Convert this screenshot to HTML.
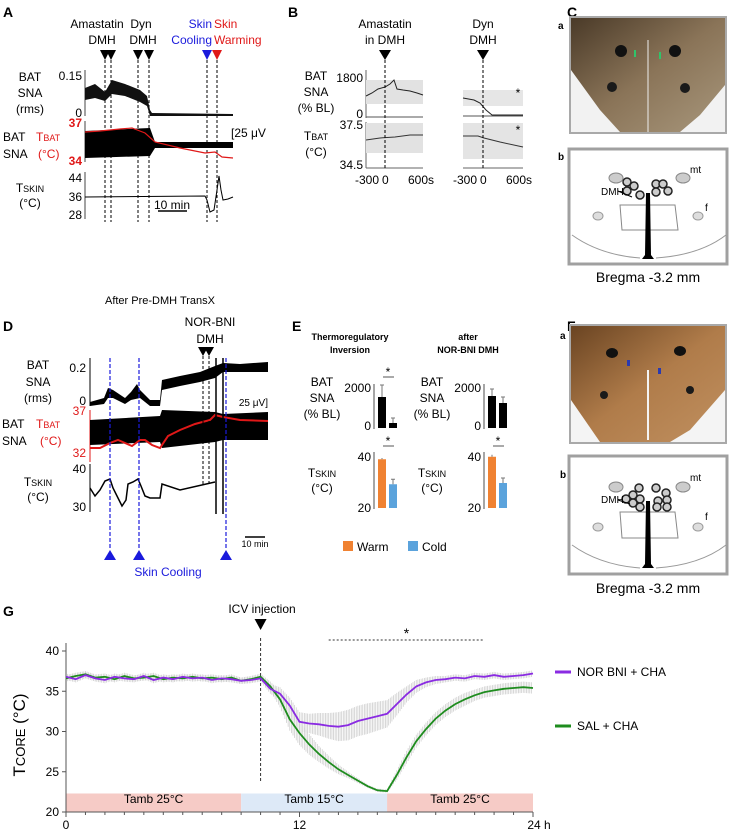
<!DOCTYPE html>
<html><head><meta charset="utf-8"><style>
html,body{margin:0;padding:0;background:#fff}
svg{display:block;font-family:"Liberation Sans",Arial,sans-serif}
</style></head><body>
<svg id="fig" width="731" height="839" viewBox="0 0 731 839" xmlns="http://www.w3.org/2000/svg">
<defs>
<linearGradient id="photoC" x1="0" y1="0" x2="1" y2="1"><stop offset="0" stop-color="#4a3a28"/><stop offset="0.5" stop-color="#8a7458"/><stop offset="1" stop-color="#a8977c"/></linearGradient>
<linearGradient id="photoF" x1="0" y1="0" x2="1" y2="1"><stop offset="0" stop-color="#6a4422"/><stop offset="0.5" stop-color="#b07c4a"/><stop offset="1" stop-color="#c09060"/></linearGradient>
</defs>

<!-- PANEL A -->
<g font-size="12">
<text x="3" y="17" font-weight="bold" font-size="14">A</text>
<text x="97" y="28" text-anchor="middle">Amastatin</text><text x="102" y="44" text-anchor="middle">DMH</text>
<text x="141" y="28" text-anchor="middle">Dyn</text><text x="143" y="44" text-anchor="middle">DMH</text>
<text x="212" y="28" text-anchor="end" fill="#1a1adc">Skin</text><text x="214" y="28" fill="#e01818">Skin</text>
<text x="212" y="44" text-anchor="end" fill="#1a1adc">Cooling</text><text x="214" y="44" fill="#e01818">Warming</text>
<g fill="#000"><path d="M100,50h10l-5,10z"/><path d="M106,50h10l-5,10z"/><path d="M133,50h10l-5,10z"/><path d="M144,50h10l-5,10z"/></g>
<path d="M202,50h10l-5,10z" fill="#1a1adc"/><path d="M212,50h10l-5,10z" fill="#e01818"/>
<g stroke="#000" stroke-dasharray="3,2" stroke-width="1"><line x1="105" y1="60" x2="105" y2="222"/><line x1="111" y1="60" x2="111" y2="222"/><line x1="138" y1="60" x2="138" y2="222"/><line x1="149" y1="60" x2="149" y2="222"/><line x1="207" y1="60" x2="207" y2="222"/><line x1="217" y1="60" x2="217" y2="222"/></g>
<text x="30" y="81" text-anchor="middle">BAT</text><text x="30" y="97" text-anchor="middle">SNA</text><text x="30" y="113" text-anchor="middle">(rms)</text>
<text x="82" y="80" text-anchor="end">0.15</text><text x="82" y="117" text-anchor="end">0</text>
<line x1="85" y1="70" x2="85" y2="116" stroke="#444"/>
<path d="M85,88 L95,84 L105,92 L112,80 L125,84 L140,90 L147,96 L150,110 L152,113 L233,114 L233,116 L150,116 L147,106 L140,102 L125,96 L112,94 L105,101 L95,98 L85,100z" fill="#111"/>
<text x="3" y="141">BAT</text><text x="3" y="158">SNA</text>
<text x="36" y="141" fill="#e01818">T<tspan font-size="9">BAT</tspan></text><text x="38" y="158" fill="#e01818">(°C)</text>
<text x="82" y="127" text-anchor="end" fill="#e01818" font-weight="bold">37</text><text x="82" y="165" text-anchor="end" fill="#e01818" font-weight="bold">34</text>
<line x1="85" y1="121" x2="85" y2="162" stroke="#444"/>
<path d="M85,131 L150,128 L155,142 L233,142 L233,148 L155,148 L150,156 L85,158z" fill="#000"/>
<polyline points="85,132 100,131 120,129 132,128 145,133 155,142 180,148 205,153 215,152 222,157 233,158" fill="none" stroke="#e01818" stroke-width="1.2"/>
<text x="231" y="137">[25 μV</text>
<text x="30" y="192" text-anchor="middle">T<tspan font-size="9">SKIN</tspan></text><text x="30" y="207" text-anchor="middle">(°C)</text>
<text x="82" y="182" text-anchor="end">44</text><text x="82" y="201" text-anchor="end">36</text><text x="82" y="219" text-anchor="end">28</text>
<line x1="85" y1="172" x2="85" y2="219" stroke="#444"/>
<polyline points="85,197 205,196 207,200 210,212 214,210 217,190 219,176 221,190 223,200 228,199 233,197" fill="none" stroke="#000"/>
<line x1="158" y1="211" x2="187" y2="211" stroke="#000" stroke-width="1.5"/><text x="172" y="209" text-anchor="middle">10 min</text>
</g>

<!-- PANEL B -->
<g font-size="12">
<text x="288" y="17" font-weight="bold" font-size="14">B</text>
<text x="385" y="28" text-anchor="middle">Amastatin</text><text x="385" y="44" text-anchor="middle">in DMH</text>
<text x="483" y="28" text-anchor="middle">Dyn</text><text x="483" y="44" text-anchor="middle">DMH</text>
<path d="M379,50h12l-6,10z"/><path d="M477,50h12l-6,10z"/>
<text x="316" y="80" text-anchor="middle">BAT</text><text x="316" y="96" text-anchor="middle">SNA</text><text x="316" y="112" text-anchor="middle">(% BL)</text>
<text x="363" y="82" text-anchor="end">1800</text><text x="363" y="118" text-anchor="end">0</text>
<text x="316" y="140" text-anchor="middle">T<tspan font-size="9">BAT</tspan></text><text x="316" y="156" text-anchor="middle">(°C)</text>
<text x="363" y="129" text-anchor="end">37.5</text><text x="363" y="169" text-anchor="end">34.5</text>
<line x1="366" y1="70" x2="366" y2="118" stroke="#666"/><line x1="366" y1="122" x2="366" y2="168" stroke="#666"/>
<rect x="366" y="80" width="57" height="24" fill="#e2e2e2"/><rect x="463" y="90" width="60" height="16" fill="#e6e6e6"/>
<rect x="366" y="123" width="57" height="30" fill="#e2e2e2"/><rect x="463" y="123" width="60" height="36" fill="#e4e4e4"/>
<polyline points="366,96 372,93 378,89 385,87 390,84 394,80 397,89 403,90 410,91 417,93 423,95" fill="none" stroke="#222"/>
<line x1="366" y1="117" x2="423" y2="117" stroke="#555"/>
<polyline points="366,140 380,138 395,137 410,135 423,135" fill="none" stroke="#333"/>
<line x1="366" y1="168" x2="423" y2="168" stroke="#666"/>
<polyline points="463,98 474,100 480,103 486,110 492,115 523,115" fill="none" stroke="#222"/>
<line x1="463" y1="116" x2="523" y2="116" stroke="#555"/>
<polyline points="463,136 478,136 484,138 500,142 523,147" fill="none" stroke="#333"/>
<line x1="463" y1="168" x2="523" y2="168" stroke="#666"/>
<g stroke="#000" stroke-dasharray="3,2"><line x1="385" y1="60" x2="385" y2="168"/><line x1="483" y1="60" x2="483" y2="168"/></g>
<text x="518" y="97" text-anchor="middle">*</text><text x="518" y="134" text-anchor="middle">*</text>
<text x="355" y="184">-300</text><text x="382" y="184">0</text><text x="408" y="184">600s</text>
<text x="453" y="184">-300</text><text x="480" y="184">0</text><text x="506" y="184">600s</text>
</g>

<!-- PANEL C -->
<g>
<text x="567" y="17" font-weight="bold" font-size="14">C</text>
<text x="558" y="29" font-weight="bold" font-size="10">a</text>
<rect x="569" y="16" width="158" height="118" fill="#a9a9a9"/>
<rect x="571" y="18" width="154" height="114" fill="url(#photoC)"/>
<path d="M571,70 L600,110 L620,132 L571,132z" fill="#f2f2f2"/><path d="M725,85 L700,115 L680,132 L725,132z" fill="#f2f2f2"/>
<ellipse cx="621" cy="51" rx="6" ry="6" fill="#111"/><ellipse cx="675" cy="51" rx="6" ry="6" fill="#111"/>
<ellipse cx="612" cy="87" rx="5" ry="5" fill="#1a1a1a"/><ellipse cx="685" cy="88" rx="5" ry="5" fill="#1a1a1a"/>
<line x1="648" y1="40" x2="648" y2="132" stroke="#eee"/>
<g fill="#2fc46a"><rect x="634" y="50" width="2" height="7"/><rect x="659" y="52" width="2" height="7"/></g>
<text x="558" y="160" font-weight="bold" font-size="10">b</text>
<rect x="569" y="149" width="158" height="115" fill="#fff" stroke="#a0a0a0" stroke-width="3"/>
<g>
<ellipse cx="616" cy="178" rx="7" ry="5" fill="#ccc" stroke="#888"/><ellipse cx="683" cy="178" rx="7" ry="5" fill="#ccc" stroke="#888"/>
<ellipse cx="598" cy="216" rx="5" ry="4" fill="#ddd" stroke="#999"/><ellipse cx="698" cy="216" rx="5" ry="4" fill="#ddd" stroke="#999"/>
<path d="M620,205 L675,205 L678,230 L622,230z" fill="none" stroke="#888"/>
<path d="M572,235 Q600,255 640,258 M656,258 Q700,255 726,235" fill="none" stroke="#999"/>
<path d="M646,193 L650,193 L651,255 L654,259 L642,259 L645,255z" fill="#000"/>
<g fill="#ccc" stroke="#222" stroke-width="1.5"><circle cx="627" cy="182" r="4"/><circle cx="634" cy="186" r="4"/><circle cx="627" cy="191" r="4"/><circle cx="640" cy="195" r="4"/><circle cx="656" cy="184" r="4"/><circle cx="663" cy="184" r="4"/><circle cx="656" cy="192" r="4"/><circle cx="668" cy="191" r="4"/></g>
<line x1="618" y1="191" x2="632" y2="197" stroke="#000"/>
<text x="601" y="195" font-size="10">DMH</text><text x="690" y="173" font-size="10">mt</text><text x="705" y="211" font-size="10">f</text>
</g>
<text x="648" y="282" text-anchor="middle" font-size="14">Bregma -3.2 mm</text>
</g>

<!-- PANEL D -->
<g font-size="12">
<text x="160" y="304" text-anchor="middle" font-size="11">After Pre-DMH TransX</text>
<text x="3" y="331" font-weight="bold" font-size="14">D</text>
<text x="210" y="326" text-anchor="middle">NOR-BNI</text><text x="210" y="343" text-anchor="middle">DMH</text>
<path d="M198,347h10l-5,9z"/><path d="M204,347h10l-5,9z"/>
<text x="38" y="369" text-anchor="middle">BAT</text><text x="38" y="386" text-anchor="middle">SNA</text><text x="38" y="402" text-anchor="middle">(rms)</text>
<text x="86" y="372" text-anchor="end">0.2</text><text x="86" y="405" text-anchor="end">0</text>
<line x1="90" y1="358" x2="90" y2="406" stroke="#000"/>
<path d="M90,402 L104,398 L108,388 L113,390 L125,398 L131,392 L137,384 L140,390 L150,400 L160,400 L162,380 L180,376 L200,372 L215,366 L223,363 L240,364 L268,362 L268,372 L240,372 L223,372 L215,378 L200,382 L180,386 L162,390 L160,406 L150,406 L140,398 L131,400 L125,404 L113,398 L108,398 L104,404 L90,406z" fill="#000"/>
<text x="2" y="428">BAT</text><text x="2" y="445">SNA</text>
<text x="36" y="428" fill="#e01818">T<tspan font-size="9">BAT</tspan></text><text x="40" y="445" fill="#e01818">(°C)</text>
<text x="86" y="415" text-anchor="end" fill="#e01818">37</text><text x="86" y="457" text-anchor="end" fill="#e01818">32</text>
<line x1="90" y1="410" x2="90" y2="462" stroke="#e01818"/>
<path d="M90,420 L160,416 L162,410 L215,412 L223,414 L268,412 L268,440 L223,440 L215,442 L162,448 L160,442 L90,445z" fill="#000"/>
<polyline points="90,448 100,448 110,443 118,440 125,443 132,446 140,440 145,440 152,445 160,448 168,436 180,430 195,424 210,420 215,415 223,417 240,420 268,421" fill="none" stroke="#e01818" stroke-width="2"/>
<text x="268" y="406" text-anchor="end" font-size="10">25 μV]</text>
<text x="38" y="486" text-anchor="middle">T<tspan font-size="9">SKIN</tspan></text><text x="38" y="501" text-anchor="middle">(°C)</text>
<text x="86" y="473" text-anchor="end">40</text><text x="86" y="511" text-anchor="end">30</text>
<line x1="90" y1="464" x2="90" y2="512" stroke="#000"/>
<polyline points="90,488 95,496 100,490 105,481 110,479 113,488 118,498 122,506 126,500 128,484 133,482 138,479 141,486 145,496 150,498 160,498 162,484 180,490 215,482 M226,480 228,500 232,503 248,503 250,486 258,485 268,484" fill="none" stroke="#000" stroke-width="1.5"/>
<g stroke="#000" stroke-width="1.5"><line x1="216" y1="358" x2="216" y2="514"/><line x1="223" y1="358" x2="223" y2="514"/></g>
<g stroke="#000" stroke-dasharray="3,2"><line x1="203" y1="356" x2="203" y2="486"/><line x1="209" y1="356" x2="209" y2="486"/></g>
<g stroke="#1a1adc" stroke-dasharray="4,2" stroke-width="1.2"><line x1="110" y1="358" x2="110" y2="550"/><line x1="139" y1="358" x2="139" y2="550"/><line x1="226" y1="358" x2="226" y2="550"/></g>
<g fill="#1a1adc"><path d="M104,560h12l-6,-10z"/><path d="M133,560h12l-6,-10z"/><path d="M220,560h12l-6,-10z"/></g>
<text x="168" y="576" text-anchor="middle" fill="#1a1adc">Skin Cooling</text>
<line x1="245" y1="537" x2="265" y2="537" stroke="#000" stroke-width="1.5"/><text x="255" y="547" text-anchor="middle" font-size="9">10 min</text>
</g>

<!-- PANEL E -->
<g font-size="12">
<text x="292" y="331" font-weight="bold" font-size="14">E</text>
<text x="350" y="340" text-anchor="middle" font-size="9" font-weight="bold">Thermoregulatory</text><text x="350" y="353" text-anchor="middle" font-size="9" font-weight="bold">Inversion</text>
<text x="468" y="340" text-anchor="middle" font-size="9" font-weight="bold">after</text><text x="468" y="353" text-anchor="middle" font-size="9" font-weight="bold">NOR-BNI DMH</text>
<g id="eBars"></g>
<rect x="343" y="541" width="10" height="10" fill="#f08232"/><text x="357" y="551">Warm</text>
<rect x="408" y="541" width="10" height="10" fill="#5ba3dc"/><text x="422" y="551">Cold</text>
</g>

<!-- PANEL F -->
<g>
<text x="567" y="331" font-weight="bold" font-size="14">F</text>
<text x="560" y="339" font-weight="bold" font-size="10">a</text>
<rect x="569" y="324" width="158" height="120" fill="#a9a9a9"/>
<rect x="571" y="326" width="154" height="116" fill="url(#photoF)"/>
<path d="M571,400 L571,442 L600,442z" fill="#f4f4f4"/><path d="M725,390 L690,430 L670,442 L725,442z" fill="#f4f4f4"/>
<ellipse cx="612" cy="353" rx="6" ry="5" fill="#111"/><ellipse cx="680" cy="351" rx="6" ry="5" fill="#111"/>
<ellipse cx="604" cy="395" rx="4" ry="4" fill="#1a1a1a"/><ellipse cx="690" cy="390" rx="4" ry="4" fill="#1a1a1a"/>
<line x1="648" y1="370" x2="648" y2="440" stroke="#f4f4f4" stroke-width="2"/>
<g fill="#2a3ab0"><rect x="627" y="360" width="3" height="6"/><rect x="658" y="368" width="3" height="6"/></g>
<text x="560" y="478" font-weight="bold" font-size="10">b</text>
<rect x="569" y="456" width="158" height="118" fill="#fff" stroke="#a0a0a0" stroke-width="3"/>
<ellipse cx="616" cy="487" rx="7" ry="5" fill="#ccc" stroke="#888"/><ellipse cx="683" cy="487" rx="7" ry="5" fill="#ccc" stroke="#888"/>
<ellipse cx="598" cy="527" rx="5" ry="4" fill="#ddd" stroke="#999"/><ellipse cx="698" cy="527" rx="5" ry="4" fill="#ddd" stroke="#999"/>
<path d="M620,512 L675,512 L678,538 L622,538z" fill="none" stroke="#888"/>
<path d="M572,545 Q600,565 640,568 M656,568 Q700,565 726,545" fill="none" stroke="#999"/>
<path d="M646,501 L650,501 L651,564 L654,568 L642,568 L645,564z" fill="#000"/>
<g fill="#ccc" stroke="#222" stroke-width="1.5"><circle cx="639" cy="488" r="4"/><circle cx="633" cy="495" r="4"/><circle cx="626" cy="499" r="4"/><circle cx="640" cy="499" r="4"/><circle cx="633" cy="503" r="4"/><circle cx="640" cy="507" r="4"/><circle cx="656" cy="488" r="4"/><circle cx="666" cy="493" r="4"/><circle cx="658" cy="501" r="4"/><circle cx="667" cy="500" r="4"/><circle cx="657" cy="507" r="4"/><circle cx="667" cy="507" r="4"/></g>
<line x1="618" y1="500" x2="630" y2="504" stroke="#000"/>
<text x="601" y="503" font-size="10">DMH</text><text x="690" y="481" font-size="10">mt</text><text x="705" y="520" font-size="10">f</text>
<text x="648" y="593" text-anchor="middle" font-size="14">Bregma -3.2 mm</text>
</g>

<!-- PANEL G -->
<g>
<text x="3" y="616" font-weight="bold" font-size="14">G</text>
<text x="262" y="613" text-anchor="middle" font-size="12">ICV injection</text>
<g id="gChart"></g>
<text x="25" y="735" text-anchor="middle" font-size="17" transform="rotate(-90 25 735)">T<tspan font-size="13">CORE</tspan> (°C)</text>
<line x1="555" y1="672" x2="571" y2="672" stroke="#8a2be2" stroke-width="3"/><text x="577" y="676" font-size="12">NOR BNI + CHA</text>
<line x1="555" y1="726" x2="571" y2="726" stroke="#1e8c1e" stroke-width="3"/><text x="577" y="730" font-size="12">SAL + CHA</text>
</g>
</svg>
<script>
// ===== Panel E data =====
var eGroups = ["Thermoregulatory Inversion", "after NOR-BNI DMH"];
var eSnaWarm = [1550, 1600];
var eSnaCold = [250, 1250];
var eSnaWarmErr = [600, 350];
var eSnaColdErr = [250, 300];
var eSkinWarm = [39.5, 40.5];
var eSkinCold = [29.5, 30];
var eSkinWarmErr = [0.5, 0.8];
var eSkinColdErr = [2, 2];
var eSig = [true, false];

// ===== Panel G data =====
var gTimes = [0,0.5,1,1.5,2,2.5,3,3.5,4,4.5,5,5.5,6,6.5,7,7.5,8,8.5,9,9.5,10,10.5,11,11.5,12,12.5,13,13.5,14,14.5,15,15.5,16,16.5,17,17.5,18,18.5,19,19.5,20,20.5,21,21.5,22,22.5,23,23.5,24];
var gNor = [36.8,36.5,37.0,36.6,36.4,36.8,36.6,36.5,36.9,36.4,36.7,36.5,36.8,36.6,36.7,36.4,36.6,36.5,36.3,36.4,36.6,35.3,34.7,33.2,31.2,31.0,30.9,30.7,30.6,30.8,31.3,31.6,31.9,32.2,33.4,34.6,35.6,36.1,36.4,36.5,36.7,36.6,36.9,36.8,37.0,36.8,36.9,37.0,37.2];
var gSal = [36.6,36.9,37.1,36.7,36.8,36.5,36.9,36.6,36.7,36.9,36.5,36.7,36.6,36.8,36.6,36.7,36.5,36.7,36.3,36.5,36.8,35.6,34.0,31.5,29.8,28.4,27.2,26.2,25.3,24.6,23.9,23.2,22.7,22.6,24.6,26.8,28.8,30.3,31.6,32.6,33.4,34.0,34.5,34.9,35.1,35.3,35.4,35.5,35.4];
var gNorErr = [0.4,0.4,0.4,0.4,0.4,0.4,0.4,0.4,0.4,0.4,0.4,0.4,0.4,0.4,0.4,0.4,0.4,0.4,0.4,0.4,0.4,0.6,0.8,1.0,1.2,1.2,1.4,1.6,1.8,1.9,1.9,1.9,1.8,1.7,1.4,1.0,0.8,0.6,0.5,0.4,0.4,0.4,0.4,0.4,0.4,0.4,0.4,0.4,0.4];
var gSalErr = [0.4,0.4,0.4,0.4,0.4,0.4,0.4,0.4,0.4,0.4,0.4,0.4,0.4,0.4,0.4,0.4,0.4,0.4,0.4,0.4,0.4,0.6,1.0,1.4,1.5,1.3,1.0,0.8,0.6,0.4,0.3,0.2,0.2,0.2,0.6,0.8,0.8,0.8,0.8,0.8,0.8,0.8,0.7,0.7,0.7,0.7,0.7,0.7,0.7];
var gYTicks = [20,25,30,35,40];
var gXTicks = [0,12,24];
var gXTickLabels = ["0","12","24 h"];
var gBands = [[0,9,"Tamb 25°C"],[9,16.5,"Tamb 15°C"],[16.5,24,"Tamb 25°C"]];
var gBandColors = ["#f6cbc6","#dde9f7","#f6cbc6"];
var gInjection = 10;
var gSigRange = [13.5, 21.5];

var NS = "http://www.w3.org/2000/svg";
function mk(tag, attrs, parent){ var e=document.createElementNS(NS,tag); for(var k in attrs) e.setAttribute(k,attrs[k]); parent.appendChild(e); return e; }

// ---- E bars ----
(function(){
  var g = document.getElementById("eBars");
  var axX = [374, 484], lblX = [322, 432];
  var snaY = function(v){ return 428 - v/2000*40; };
  var skY = function(v){ return 508 - (v-20)/20*50; };
  for (var i=0;i<2;i++){
    var ax = axX[i];
    var t;
    t = mk("text",{x:lblX[i],y:386,"text-anchor":"middle","font-size":12},g); t.textContent="BAT";
    t = mk("text",{x:lblX[i],y:402,"text-anchor":"middle","font-size":12},g); t.textContent="SNA";
    t = mk("text",{x:lblX[i],y:418,"text-anchor":"middle","font-size":12},g); t.textContent="(% BL)";
    t = mk("text",{x:ax-3,y:392,"text-anchor":"end","font-size":12},g); t.textContent="2000";
    t = mk("text",{x:ax-3,y:430,"text-anchor":"end","font-size":12},g); t.textContent="0";
    mk("line",{x1:ax,y1:384,x2:ax,y2:429,stroke:"#888","stroke-width":1.5},g);
    var b1 = mk("rect",{x:ax+4,y:snaY(eSnaWarm[i]),width:8,height:428-snaY(eSnaWarm[i]),fill:"#000"},g);
    
    
    var b2 = mk("rect",{x:ax+15,y:snaY(eSnaCold[i]),width:8,height:428-snaY(eSnaCold[i]),fill:"#000"},g);
    
    
    mk("line",{x1:ax+8,y1:snaY(eSnaWarm[i]+eSnaWarmErr[i]),x2:ax+8,y2:snaY(eSnaWarm[i]),stroke:"#777"},g);
    mk("line",{x1:ax+6,y1:snaY(eSnaWarm[i]+eSnaWarmErr[i]),x2:ax+10,y2:snaY(eSnaWarm[i]+eSnaWarmErr[i]),stroke:"#777"},g);
    mk("line",{x1:ax+19,y1:snaY(eSnaCold[i]+eSnaColdErr[i]),x2:ax+19,y2:snaY(eSnaCold[i]),stroke:"#777"},g);
    mk("line",{x1:ax+17,y1:snaY(eSnaCold[i]+eSnaColdErr[i]),x2:ax+21,y2:snaY(eSnaCold[i]+eSnaColdErr[i]),stroke:"#777"},g);
    if (eSig[i]) { mk("line",{x1:ax+9,y1:377,x2:ax+20,y2:377,stroke:"#555"},g); t=mk("text",{x:ax+14,y:376,"text-anchor":"middle","font-size":12},g); t.textContent="*"; }
    t = mk("text",{x:lblX[i],y:477,"text-anchor":"middle","font-size":12},g); t.textContent="T"; var ts=mk("tspan",{"font-size":9},t); ts.textContent="SKIN";
    t = mk("text",{x:lblX[i],y:492,"text-anchor":"middle","font-size":12},g); t.textContent="(°C)";
    t = mk("text",{x:ax-3,y:461,"text-anchor":"end","font-size":12},g); t.textContent="40";
    t = mk("text",{x:ax-3,y:512,"text-anchor":"end","font-size":12},g); t.textContent="20";
    mk("line",{x1:ax,y1:452,x2:ax,y2:509,stroke:"#888","stroke-width":1.5},g);
    var b3 = mk("rect",{x:ax+4,y:skY(eSkinWarm[i]),width:8,height:508-skY(eSkinWarm[i]),fill:"#f08232"},g);
    
    
    var b4 = mk("rect",{x:ax+15,y:skY(eSkinCold[i]),width:8,height:508-skY(eSkinCold[i]),fill:"#5ba3dc"},g);
    
    
    mk("line",{x1:ax+8,y1:skY(eSkinWarm[i]+eSkinWarmErr[i]),x2:ax+8,y2:skY(eSkinWarm[i]),stroke:"#777"},g);
    mk("line",{x1:ax+19,y1:skY(eSkinCold[i]+eSkinColdErr[i]),x2:ax+19,y2:skY(eSkinCold[i]),stroke:"#777"},g);
    mk("line",{x1:ax+17,y1:skY(eSkinCold[i]+eSkinColdErr[i]),x2:ax+21,y2:skY(eSkinCold[i]+eSkinColdErr[i]),stroke:"#777"},g);
    mk("line",{x1:ax+9,y1:446,x2:ax+20,y2:446,stroke:"#555"},g);
    t=mk("text",{x:ax+14,y:445,"text-anchor":"middle","font-size":12},g); t.textContent="*";
  }
})();

// ---- G chart ----
(function(){
  var g = document.getElementById("gChart");
  var x0=66, x1=533, yTop=651, yBot=812;
  function X(t){ return x0 + t/24*(x1-x0); }
  function Y(v){ return yBot - (v-20)/20*(yBot-yTop); }
  // bands
  for (var i=0;i<gBands.length;i++){
    var b = gBands[i];
    var r = mk("rect",{x:X(b[0]),y:Y(22.3),width:X(b[1])-X(b[0]),height:Y(20)-Y(22.3),fill:gBandColors[i]},g);
    
    
    var t = mk("text",{x:(X(b[0])+X(b[1]))/2,y:Y(20)-9,"text-anchor":"middle","font-size":12},g);
    t.textContent = b[2];
  }
  // error bars
  function errBars(vals, errs, color){
    for (var k=0;k<gTimes.length-1;k++){
      var steps = 6;
      for (var s=0;s<steps;s++){
        var f=s/steps, t=gTimes[k]+f*(gTimes[k+1]-gTimes[k]);
        var v=vals[k]+f*(vals[k+1]-vals[k]), e=errs[k]+f*(errs[k+1]-errs[k]);
        mk("line",{x1:X(t),y1:Y(v+e),x2:X(t),y2:Y(v-e),stroke:color,"stroke-width":0.8},g);
      }
    }
  }
  errBars(gNor, gNorErr, "#cfcfcf");
  errBars(gSal, gSalErr, "#cfcfcf");
  // axes
  mk("line",{x1:x0,y1:yTop-8,x2:x0,y2:yBot,stroke:"#555"},g);
  mk("line",{x1:x0,y1:yBot,x2:x1,y2:yBot,stroke:"#555"},g);
  for (var h=0;h<=24;h++) mk("line",{x1:X(h),y1:yBot,x2:X(h),y2:yBot+(h%12===0?5:3),stroke:"#555"},g);
  for (var i=0;i<gYTicks.length;i++){
    mk("line",{x1:x0-4,y1:Y(gYTicks[i]),x2:x0,y2:Y(gYTicks[i]),stroke:"#555"},g);
    var t=mk("text",{x:x0-7,y:Y(gYTicks[i])+4,"text-anchor":"end","font-size":12},g); t.textContent=gYTicks[i];
  }
  for (var i=0;i<gXTicks.length;i++){
    var t=mk("text",{x:X(gXTicks[i])+(i===2?6:0),y:yBot+17,"text-anchor":"middle","font-size":12},g); t.textContent=gXTickLabels[i];
  }
  // injection
  mk("line",{x1:X(gInjection),y1:yTop-25+12,x2:X(gInjection),y2:yBot-29,stroke:"#333","stroke-dasharray":"3,2"},g);
  mk("path",{d:"M"+(X(gInjection)-6)+","+(yTop-32)+"h12l-6,11z",fill:"#000"},g);
  // significance
  mk("line",{x1:X(gSigRange[0]),y1:yTop-11,x2:X(gSigRange[1]),y2:yTop-11,stroke:"#333","stroke-dasharray":"2,2"},g);
  var st=mk("text",{x:(X(gSigRange[0])+X(gSigRange[1]))/2,y:yTop-13,"text-anchor":"middle","font-size":14},g); st.textContent="*";
  // lines
  function pts(vals){ return gTimes.map(function(t,i){return X(t).toFixed(1)+","+Y(vals[i]).toFixed(1);}).join(" "); }
  var l1 = mk("polyline",{points:pts(gSal),fill:"none",stroke:"#1e8c1e","stroke-width":1.8},g);
  
  
  var l2 = mk("polyline",{points:pts(gNor),fill:"none",stroke:"#8a2be2","stroke-width":1.8},g);
  
  
})();
</script>
</body></html>
